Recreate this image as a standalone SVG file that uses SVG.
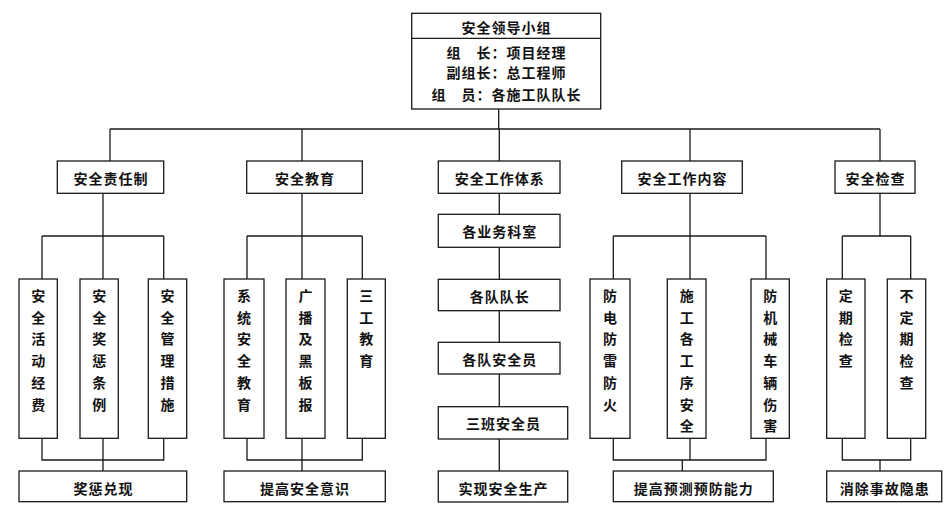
<svg xmlns="http://www.w3.org/2000/svg" width="949" height="511" viewBox="0 0 949 511">
<style>
.b{fill:#fff;stroke:#1a1a1a;stroke-width:1.3}
.c{fill:none;stroke:#1a1a1a;stroke-width:1.3}
text{font-family:"Noto Sans CJK SC","Noto Sans CJK JP",sans-serif;font-size:14px;font-weight:bold;fill:#111;text-anchor:middle;dominant-baseline:central}
.h{letter-spacing:1px}
</style>
<rect width="949" height="511" fill="#fff"/>
<g id="connectors">
<path class="c" d="M498.7 109V129M110 129H880M110 129V161M302 129V161M499.3 129V161M690 129V161M880 129V161"/>
<path class="c" d="M103 193V236M42 236H163.7M42 236V279M103 236V279M163.7 236V279"/>
<path class="c" d="M302 193V236M247 236H362.3M247 236V279M302 236V279M362.3 236V279"/>
<path class="c" d="M690 193V236M613.3 236H766M613.3 236V279M690 236V279M766 236V279"/>
<path class="c" d="M880 193V236M842.3 236H910.7M842.3 236V279M910.7 236V279"/>
<path class="c" d="M499.3 193V471"/>
<path class="c" d="M42 438V460H163.7V438M103 438V471"/>
<path class="c" d="M247 438V460H362.3V438M302 438V471"/>
<path class="c" d="M613.3 438V460H766V438M690 438V460M682.3 460V471"/>
<path class="c" d="M842.3 438V460H910.7V438M880 460V471"/>
</g>
<g id="leader">
<rect class="b" x="411.7" y="13.3" width="189" height="95.7"/>
<path class="c" d="M411.7 38.3H600.7"/>
<text class="h" x="506.5" y="26.5">安全领导小组</text>
<text class="h" x="506.5" y="51.5">组　长：项目经理</text>
<text class="h" x="506.5" y="72">副组长：总工程师</text>
<text class="h" x="506.5" y="94">组　员：各施工队队长</text>
</g>
<g id="n-zrz"><rect class="b" x="57.3" y="161" width="106.4" height="32.3"/><text class="h" x="111" y="177.5">安全责任制</text></g>
<g id="n-jy"><rect class="b" x="246.7" y="161" width="115.6" height="32.3"/><text class="h" x="305" y="177.5">安全教育</text></g>
<g id="n-tx"><rect class="b" x="438.3" y="161" width="121.7" height="32.3"/><text class="h" x="499.7" y="177.5">安全工作体系</text></g>
<g id="n-nr"><rect class="b" x="621.7" y="161" width="120.6" height="32.3"/><text class="h" x="682.5" y="177.5">安全工作内容</text></g>
<g id="n-jc"><rect class="b" x="835" y="161" width="80" height="32.3"/><text class="h" x="875.5" y="177.5">安全检查</text></g>

<g id="n-a"><rect class="b" x="19" y="279" width="38.3" height="159.3"/><text y="295"><tspan x="38.2">安</tspan><tspan x="38.2" dy="21.7">全</tspan><tspan x="38.2" dy="21.7">活</tspan><tspan x="38.2" dy="21.7">动</tspan><tspan x="38.2" dy="21.7">经</tspan><tspan x="38.2" dy="21.7">费</tspan></text></g>
<g id="n-b"><rect class="b" x="80" y="279" width="38.3" height="159.3"/><text y="295"><tspan x="99.2">安</tspan><tspan x="99.2" dy="21.7">全</tspan><tspan x="99.2" dy="21.7">奖</tspan><tspan x="99.2" dy="21.7">惩</tspan><tspan x="99.2" dy="21.7">条</tspan><tspan x="99.2" dy="21.7">例</tspan></text></g>
<g id="n-c"><rect class="b" x="148.3" y="279" width="38.4" height="159.3"/><text y="295"><tspan x="167.5">安</tspan><tspan x="167.5" dy="21.7">全</tspan><tspan x="167.5" dy="21.7">管</tspan><tspan x="167.5" dy="21.7">理</tspan><tspan x="167.5" dy="21.7">措</tspan><tspan x="167.5" dy="21.7">施</tspan></text></g>
<g id="n-d"><rect class="b" x="224" y="279" width="40" height="159.3"/><text y="295"><tspan x="244">系</tspan><tspan x="244" dy="21.7">统</tspan><tspan x="244" dy="21.7">安</tspan><tspan x="244" dy="21.7">全</tspan><tspan x="244" dy="21.7">教</tspan><tspan x="244" dy="21.7">育</tspan></text></g>
<g id="n-e"><rect class="b" x="286" y="279" width="39" height="159.3"/><text y="295"><tspan x="305.5">广</tspan><tspan x="305.5" dy="21.7">播</tspan><tspan x="305.5" dy="21.7">及</tspan><tspan x="305.5" dy="21.7">黑</tspan><tspan x="305.5" dy="21.7">板</tspan><tspan x="305.5" dy="21.7">报</tspan></text></g>
<g id="n-f"><rect class="b" x="347.3" y="279" width="38" height="159.3"/><text y="295"><tspan x="366.3">三</tspan><tspan x="366.3" dy="21.7">工</tspan><tspan x="366.3" dy="21.7">教</tspan><tspan x="366.3" dy="21.7">育</tspan></text></g>

<g id="n-k1"><rect class="b" x="438.3" y="214.3" width="121.7" height="33"/><text class="h" x="499.7" y="231">各业务科室</text></g>
<g id="n-k2"><rect class="b" x="438.3" y="279.3" width="121.7" height="31.4"/><text class="h" x="499.7" y="295.5">各队队长</text></g>
<g id="n-k3"><rect class="b" x="438.3" y="342.3" width="121.7" height="31.7"/><text class="h" x="499.7" y="358.5">各队安全员</text></g>
<g id="n-k4"><rect class="b" x="438.3" y="406.7" width="129.4" height="32.3"/><text class="h" x="503.5" y="423">三班安全员</text></g>

<g id="n-g"><rect class="b" x="590" y="279" width="40" height="159.3"/><text y="295"><tspan x="610">防</tspan><tspan x="610" dy="21.7">电</tspan><tspan x="610" dy="21.7">防</tspan><tspan x="610" dy="21.7">雷</tspan><tspan x="610" dy="21.7">防</tspan><tspan x="610" dy="21.7">火</tspan></text></g>
<g id="n-h"><rect class="b" x="667.3" y="279" width="38.7" height="159.3"/><text y="295"><tspan x="686.7">施</tspan><tspan x="686.7" dy="21.7">工</tspan><tspan x="686.7" dy="21.7">各</tspan><tspan x="686.7" dy="21.7">工</tspan><tspan x="686.7" dy="21.7">序</tspan><tspan x="686.7" dy="21.7">安</tspan><tspan x="686.7" dy="21.7">全</tspan></text></g>
<g id="n-i"><rect class="b" x="751" y="279" width="38.3" height="159.3"/><text y="295"><tspan x="770.2">防</tspan><tspan x="770.2" dy="21.7">机</tspan><tspan x="770.2" dy="21.7">械</tspan><tspan x="770.2" dy="21.7">车</tspan><tspan x="770.2" dy="21.7">辆</tspan><tspan x="770.2" dy="21.7">伤</tspan><tspan x="770.2" dy="21.7">害</tspan></text></g>
<g id="n-j"><rect class="b" x="826.7" y="279" width="38.3" height="159.3"/><text y="295"><tspan x="845.8">定</tspan><tspan x="845.8" dy="21.7">期</tspan><tspan x="845.8" dy="21.7">检</tspan><tspan x="845.8" dy="21.7">查</tspan></text></g>
<g id="n-l"><rect class="b" x="887.3" y="279" width="38.4" height="159.3"/><text y="295"><tspan x="906.5">不</tspan><tspan x="906.5" dy="21.7">定</tspan><tspan x="906.5" dy="21.7">期</tspan><tspan x="906.5" dy="21.7">检</tspan><tspan x="906.5" dy="21.7">查</tspan></text></g>

<g id="r1"><rect class="b" x="19" y="471" width="167.7" height="30.7"/><text class="h" x="103.5" y="487.5">奖惩兑现</text></g>
<g id="r2"><rect class="b" x="224" y="471" width="161.3" height="30.7"/><text class="h" x="305" y="487.5">提高安全意识</text></g>
<g id="r3"><rect class="b" x="438.3" y="471" width="129.4" height="31"/><text class="h" x="503.5" y="487.5">实现安全生产</text></g>
<g id="r4"><rect class="b" x="613.3" y="471" width="160" height="30.7"/><text class="h" x="693.8" y="487.5">提高预测预防能力</text></g>
<g id="r5"><rect class="b" x="826.7" y="471" width="115" height="30.7"/><text class="h" x="884.7" y="487.5">消除事故隐患</text></g>
</svg>
